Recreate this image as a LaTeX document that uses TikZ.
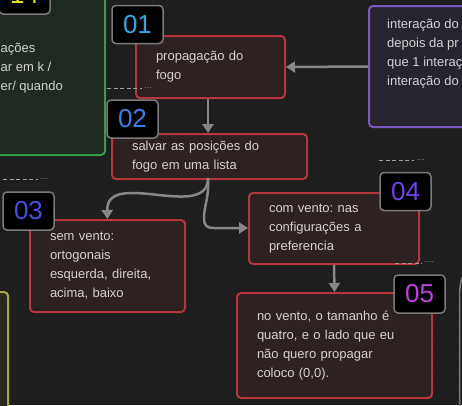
\documentclass[tikz,border=0pt]{standalone}
\usepackage{fontspec}
\setmainfont{Liberation Sans}
\frenchspacing
\usetikzlibrary{arrows.meta}
\definecolor{bg}{HTML}{1E1E1E}
\definecolor{gdot}{HTML}{383838}
\definecolor{redfill}{HTML}{2D2122}
\definecolor{redline}{HTML}{B4373D}
\definecolor{txt}{HTML}{D2D2D2}
\definecolor{arr}{HTML}{878787}
\definecolor{greenfill}{HTML}{1F2A23}
\definecolor{greenline}{HTML}{3C9A4B}
\definecolor{purfill}{HTML}{27242F}
\definecolor{purline}{HTML}{7A58C0}
\definecolor{yelfill}{HTML}{29291F}
\definecolor{yelline}{HTML}{A6A645}
\definecolor{badgeline}{HTML}{7A7A7A}
\definecolor{cA}{HTML}{E6E61E}
\definecolor{c1}{HTML}{33A6E6}
\definecolor{c2}{HTML}{3582E8}
\definecolor{c3}{HTML}{4A4CE2}
\definecolor{c4}{HTML}{7040E8}
\definecolor{c5}{HTML}{C040E6}
\tikzset{
  stepbox/.style={draw=redline, fill=redfill, line width=2pt, rounded corners=4pt,
    inner xsep=20pt, inner ysep=0pt, align=left, text=txt,
    font=\fontsize{13}{19}\selectfont, anchor=north west},
  badge/.style={draw=badgeline, fill=black, line width=1.5pt, rounded corners=4pt,
    minimum width=51pt, minimum height=38pt, inner sep=0pt,
    font=\fontsize{26}{26}\selectfont},
  plaintext/.style={text=txt, align=left, inner sep=0pt, anchor=north west,
    font=\fontsize{13}{19}\selectfont},
  conn/.style={draw=arr, line width=2.5pt, -{Triangle[length=9pt,width=11pt]}},
  stub/.style={draw=arr!80, line width=0.8pt, dash pattern=on 4pt off 2.5pt},
  dots/.style={text=arr, inner sep=0pt, font=\fontsize{9}{9}\selectfont}
}
\begin{document}
\begin{tikzpicture}[x=1pt,y=-1pt]
\useasboundingbox (0,0) rectangle (462,405);
\fill[bg] (0,0) rectangle (462,405);
\foreach \gx in {8,24,...,456} {
  \foreach \gy in {1,17,...,401} {
    \fill[gdot] (\gx,\gy) circle (0.7pt);
  }
}
% green box (14)
\draw[draw=greenline, fill=greenfill, line width=2pt, rounded corners=4pt] (-12,-12) rectangle (105,155);
\node[badge] (b14) at (24.5,-5) {\textcolor{cA}{14}};
\node[plaintext] (t14) at (0.5,43) {ações\\ar em k /\\er/ quando};
% purple box
\node[draw=purline, fill=purfill, line width=2pt, rounded corners=4pt,
  minimum width=110pt, minimum height=121pt, anchor=north west, inner sep=0pt] (pbox) at (368,5) {};
\node[plaintext] (ptext) at (387,19) {interação do\\depois da pr\\que 1 interaç\\interação do};
% yellow box
\draw[draw=yelline, fill=yelfill, line width=2pt, rounded corners=4pt] (-12,292) rectangle (8,418);
% right grey edge
\draw[draw=arr!110, line width=1.5pt] (463,276) .. controls (460,281) and (459.5,290) .. (459.5,302) -- (459.5,410);
% step nodes
\node[stepbox, text width=109pt, minimum height=62pt] (n1) at (135,35) {propagação do\\fogo};
\node[stepbox, text width=155pt, minimum height=45pt] (n2) at (111,133) {salvar as posições do\\fogo em uma lista};
\node[stepbox, text width=115pt, minimum height=92pt] (n3) at (29,219) {sem vento:\\ortogonais\\esquerda, direita,\\acima, baixo};
\node[stepbox, text width=130pt, minimum height=71pt] (n4) at (248,192) {com vento: nas\\configurações a\\preferencia};
\node[stepbox, text width=155pt, minimum height=105pt] (n5) at (236,292) {no vento, o tamanho é\\quatro, e o lado que eu\\não quero propagar\\coloco (0,0).};
% badges
\node[badge] (b1) at (137.5,24.5) {\textcolor{c1}{01}};
\node[badge] (b2) at (132.5,119) {\textcolor{c2}{02}};
\node[badge] (b3) at (28.5,211) {\textcolor{c3}{03}};
\node[badge] (b4) at (405.5,191.5) {\textcolor{c4}{04}};
\node[badge] (b5) at (419.5,294) {\textcolor{c5}{05}};
% connectors
\draw[conn] (pbox.west) -- (n1.east);
\draw[conn] (n1.south -| 208,0) -- (n2.north -| 208,0);
\coordinate (s2) at (208,178);
\draw[conn] (s2) .. controls (208,222) and (106,168) .. (n3.north);
\draw[conn] (s2) .. controls (209,200) and (204,205) .. (204,218) .. controls (204,226) and (207,228) .. (214,228) -- (n4.west |- 0,228);
\draw[conn] (n4.south) -- (n5.north);
% collapsed stubs
\draw[stub] (107,88) -- (142,88);
\node[dots, anchor=west] (d1) at (144,88) {...};
\draw[stub] (3,179) -- (38,179);
\node[dots, anchor=west] (d3) at (40,179) {...};
\draw[stub] (379,160) -- (414,160);
\node[dots, anchor=west] (d4) at (417,160) {...};
\draw[stub] (395,263) -- (422,263);
\node[dots, anchor=west] (d5) at (424,262) {....};
\end{tikzpicture}
\end{document}
